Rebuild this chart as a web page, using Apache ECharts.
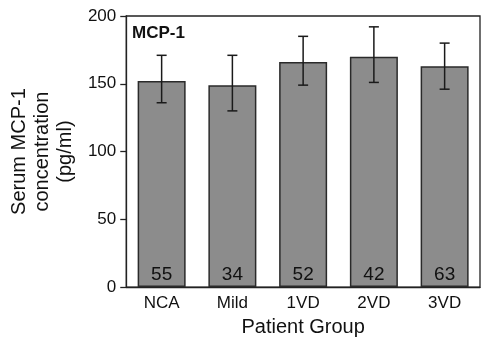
<!DOCTYPE html>
<html><head><meta charset="utf-8">
<script src="https://cdn.jsdelivr.net/npm/echarts@6/dist/echarts.min.js"></script>
<style>html,body{margin:0;padding:0;background:#fff}#c{width:481px;height:342px}</style>
</head><body><div id="c"></div>
<script>
const categories = ['NCA', 'Mild', '1VD', '2VD', '3VD'];
const means = [152, 149, 166, 170, 163];
const errLow = [136, 130, 149, 151, 146];
const errHigh = [171, 171, 185, 192, 180];
const counts = [55, 34, 52, 42, 63];
const yTicks = [0, 50, 100, 150, 200];

const chart = echarts.init(document.getElementById('c'), null, {renderer: 'canvas'});
const font = 'Liberation Sans, Arial, Helvetica, sans-serif';
const ink = '#222';
chart.setOption({
  animation: false,
  backgroundColor: '#fff',
  grid: {left: 124, right: 1, top: 16, bottom: 52, show: true, borderColor: ink, borderWidth: 1.3, backgroundColor: 'transparent'},
  title: {text: 'MCP-1', left: 127, top: 20, textStyle: {fontFamily: font, fontWeight: 'bold', fontSize: 17, color: '#111'}},
  xAxis: {
    type: 'category', data: categories,
    axisLine: {lineStyle: {color: ink, width: 1.3}},
    axisTick: {alignWithLabel: true, length: 6, lineStyle: {color: ink, width: 1.3}},
    axisLabel: {fontFamily: font, fontSize: 17, color: '#111', margin: 8},
    name: 'Patient Group', nameLocation: 'middle', nameGap: 29,
    nameTextStyle: {fontFamily: font, fontSize: 20, color: '#111'}
  },
  yAxis: {
    type: 'value', min: yTicks[0], max: yTicks[yTicks.length - 1], interval: 50,
    splitLine: {show: false},
    axisLine: {show: true, lineStyle: {color: ink, width: 1.3}},
    axisTick: {show: true, length: 6, lineStyle: {color: ink, width: 1.3}},
    axisLabel: {fontFamily: font, fontSize: 17, color: '#111', margin: 10},
    name: 'Serum MCP-1\nconcentration\n(pg/ml)', nameLocation: 'middle', nameGap: 44,
    nameTextStyle: {fontFamily: font, fontSize: 20, lineHeight: 23, color: '#111'}
  },
  series: [
    {
      type: 'bar', data: means, barWidth: 48,
      itemStyle: {color: '#8c8c8c', borderColor: '#2a2a2a', borderWidth: 1.5},
      label: {
        show: true, position: 'insideBottom', distance: 3,
        formatter: p => String(counts[p.dataIndex]),
        fontFamily: font, fontSize: 19, color: '#111'
      },
      z: 2
    },
    {
      type: 'custom',
      data: categories.map((c, i) => [i, errLow[i], errHigh[i]]),
      renderItem: function (params, api) {
        const lo = api.coord([api.value(0), api.value(1)]);
        const hi = api.coord([api.value(0), api.value(2)]);
        const hw = 5;
        const st = {stroke: '#1a1a1a', lineWidth: 1.5};
        return {type: 'group', children: [
          {type: 'line', shape: {x1: lo[0], y1: lo[1], x2: hi[0], y2: hi[1]}, style: st},
          {type: 'line', shape: {x1: lo[0] - hw, y1: lo[1], x2: lo[0] + hw, y2: lo[1]}, style: st},
          {type: 'line', shape: {x1: hi[0] - hw, y1: hi[1], x2: hi[0] + hw, y2: hi[1]}, style: st}
        ]};
      },
      encode: {x: 0, y: [1, 2]},
      z: 3
    }
  ]
});
</script></body></html>
